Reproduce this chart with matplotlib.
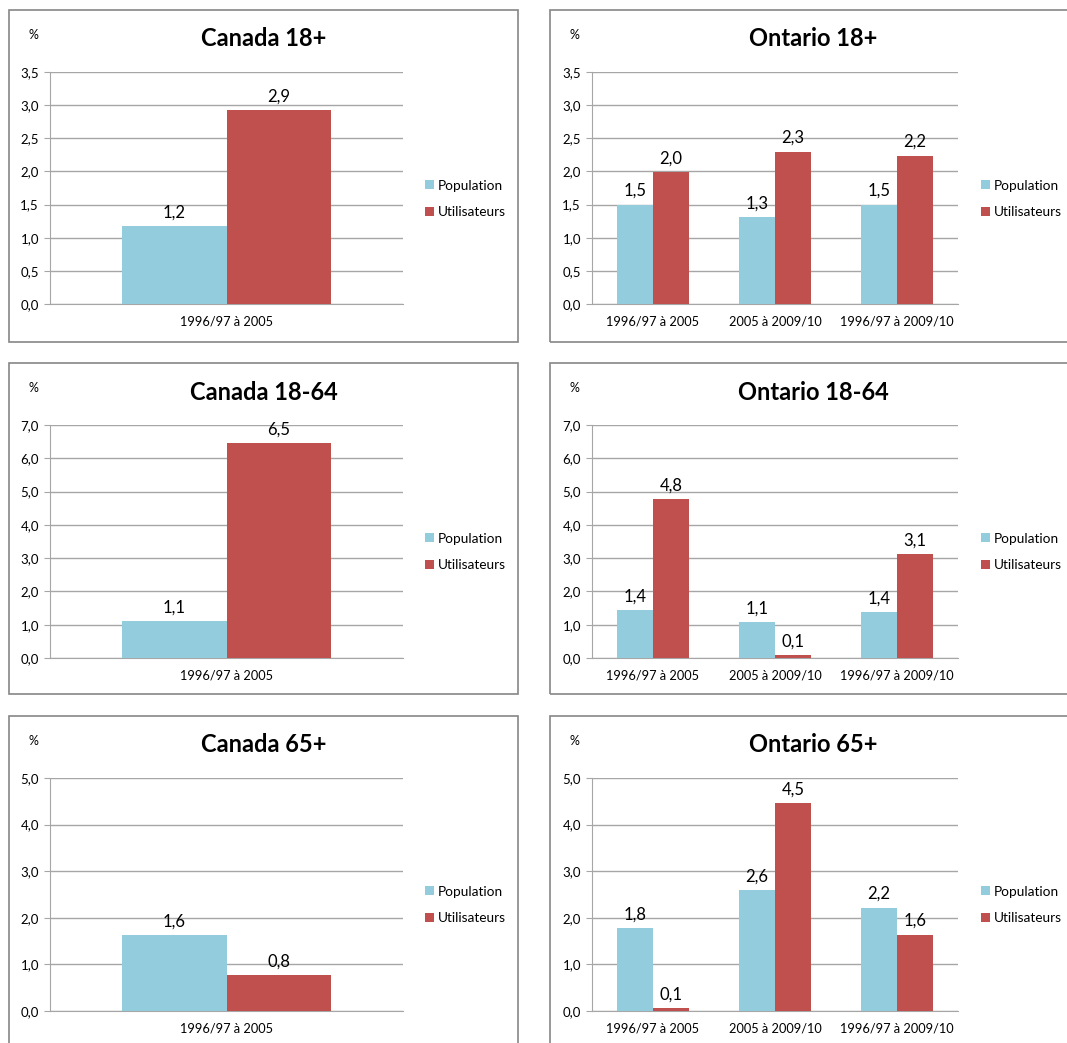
import matplotlib
matplotlib.use("Agg")
import matplotlib.pyplot as plt
from matplotlib.patches import Rectangle

plt.rcParams['font.family'] = ['Lato', 'DejaVu Sans']

W, H = 1067, 1043

# data
titles = ["Canada 18+", "Ontario 18+", "Canada 18-64", "Ontario 18-64", "Canada 65+", "Ontario 65+"]
cats_canada = ["1996/97 à 2005"]
cats_ontario = ["1996/97 à 2005", "2005 à 2009/10", "1996/97 à 2009/10"]

can18_pop = [1.18]
can18_util = [2.93]
ont18_pop = [1.50, 1.31, 1.50]
ont18_util = [1.99, 2.30, 2.24]
can1864_pop = [1.11]
can1864_util = [6.46]
ont1864_pop = [1.44, 1.08, 1.37]
ont1864_util = [4.78, 0.09, 3.12]
can65_pop = [1.63]
can65_util = [0.77]
ont65_pop = [1.78, 2.60, 2.22]
ont65_util = [0.07, 4.46, 1.64]

ymax = [3.5, 3.5, 7.0, 7.0, 5.0, 5.0]
ystep = [0.5, 0.5, 1.0, 1.0, 1.0, 1.0]

panels = [
    (cats_canada, can18_pop, can18_util),
    (cats_ontario, ont18_pop, ont18_util),
    (cats_canada, can1864_pop, can1864_util),
    (cats_ontario, ont1864_pop, ont1864_util),
    (cats_canada, can65_pop, can65_util),
    (cats_ontario, ont65_pop, ont65_util),
]

pop_color = '#93CDDD'
util_color = '#C0504D'
grid_color = '#A6A6A6'

# pixel layout: (box left, box right), (plot left, plot right), title x, legend x
cols = [((9, 518), (50, 403), 264, 426), ((550, 1080), (592, 958), 813, 982)]
rows = [((10, 342), (72, 304)), ((363, 694), (425, 658)), ((716, 1060), (778, 1011))]

fig = plt.figure(figsize=(W / 100, H / 100), dpi=100)


def fx(x):
    return x / W


def fy(y):
    return 1 - y / H


def fmt(v):
    return ("%.1f" % v).replace(".", ",")


for i, (cats, pop, util) in enumerate(panels):
    (bl, br), (pl, pr), tx, lx = cols[i % 2]
    (bt, bb), (pt, pb) = rows[i // 2]

    fig.patches.append(Rectangle((fx(bl), fy(bb)), fx(br - bl), (bb - bt) / H,
                                 transform=fig.transFigure, fill=False,
                                 edgecolor='#868686', linewidth=1.2))

    ax = fig.add_axes([fx(pl), fy(pb), fx(pr - pl), (pb - pt) / H])
    x = list(range(len(cats)))
    w = 0.295
    b1 = ax.bar([k - w / 2 for k in x], pop, width=w, color=pop_color, label="Population", zorder=3)
    b2 = ax.bar([k + w / 2 for k in x], util, width=w, color=util_color, label="Utilisateurs", zorder=3)
    ax.bar_label(b1, labels=[fmt(v) for v in pop], padding=4, fontsize=12)
    ax.bar_label(b2, labels=[fmt(v) for v in util], padding=4, fontsize=12)

    ax.set_xlim(-0.5, len(cats) - 0.5)
    ax.set_ylim(0, ymax[i])
    n = int(round(ymax[i] / ystep[i]))
    ticks = [k * ystep[i] for k in range(n + 1)]
    ax.set_yticks(ticks)
    ax.set_yticklabels([fmt(t) for t in ticks], fontsize=9.5)
    ax.set_xticks(x)
    ax.set_xticklabels(cats, fontsize=9.2)
    ax.tick_params(axis='x', length=0, pad=8)
    ax.tick_params(axis='y', length=4, color=grid_color, pad=4)
    ax.yaxis.grid(True, color=grid_color, linewidth=1, zorder=0)
    ax.set_axisbelow(True)
    for s in ['top', 'right']:
        ax.spines[s].set_visible(False)
    ax.spines['left'].set_color(grid_color)
    ax.spines['bottom'].set_color(grid_color)

    fig.text(fx(tx), fy(bt + 29), titles[i], ha='center', va='center',
             fontsize=17, fontweight='bold')
    fig.text(fx(bl + 24), fy(bt + 25), "%", ha='center', va='center', fontsize=9)

    ax.legend(loc='center left', bbox_to_anchor=(fx(lx - 1), fy(bt + 189)),
              bbox_transform=fig.transFigure, frameon=False, fontsize=9.8,
              handlelength=0.65, handleheight=0.65, handletextpad=0.3,
              labelspacing=1.1, borderaxespad=0, borderpad=0)

fig.savefig("out.png", dpi=100)
